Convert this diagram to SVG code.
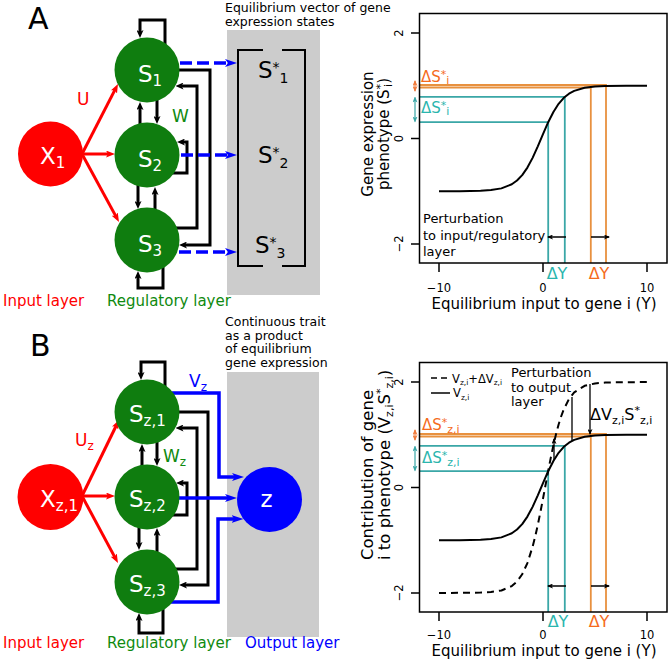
<svg xmlns="http://www.w3.org/2000/svg" width="671" height="663" viewBox="0 0 671 663">
<style>
text{font-family:"DejaVu Sans","Liberation Sans",sans-serif}
.nt{fill:#fff;font-size:23px}
.sb{font-size:15px}
.blk{fill:none;stroke:#000;stroke-width:3;marker-end:url(#hk)}
.red{fill:none;stroke:#f00;stroke-width:3;marker-end:url(#hr)}
.blu{fill:none;stroke:#00f;stroke-width:3.5;marker-end:url(#hb)}
.dsh{stroke-dasharray:12 5}
.gr{fill:#0f7d0f}
.ttl{font-size:12.5px}
.tk{font-size:11.5px}
.ax{font-size:15px}
.cy{stroke:#3aa7a7;stroke-width:1.8;fill:none}
.or{stroke:#e8913f;stroke-width:1.8;fill:none}
.cur{fill:none;stroke:#000;stroke-width:2;stroke-linejoin:round}
.pa{fill:none;stroke:#000;stroke-width:1.3;marker-start:url(#hp);marker-end:url(#hp)}
.box{fill:none;stroke:#000;stroke-width:1.5}
</style>
<defs>
<marker id="hk" viewBox="0 0 8 7" refX="3" refY="3.5" markerWidth="8" markerHeight="7" markerUnits="userSpaceOnUse" orient="auto"><path d="M0,0 L8,3.5 L0,7 L2,3.5z" fill="#000"/></marker>
<marker id="hr" viewBox="0 0 9 7" refX="4" refY="3.5" markerWidth="9" markerHeight="7" markerUnits="userSpaceOnUse" orient="auto"><path d="M0,0 L9,3.5 L0,7 L2,3.5z" fill="#f00"/></marker>
<marker id="hb" viewBox="0 0 12 8" refX="4" refY="4" markerWidth="12" markerHeight="8" markerUnits="userSpaceOnUse" orient="auto"><path d="M0,0 L12,4 L0,8 L3,4z" fill="#00f"/></marker>
<marker id="hp" viewBox="0 0 6 5" refX="5" refY="2.5" markerWidth="6" markerHeight="5" markerUnits="userSpaceOnUse" orient="auto-start-reverse"><path d="M0,0 L6,2.5 L0,5 L1.5,2.5z" fill="#000"/></marker>
<marker id="hc" viewBox="0 0 6 5" refX="5" refY="2.5" markerWidth="6" markerHeight="5" markerUnits="userSpaceOnUse" orient="auto-start-reverse"><path d="M0,0 L6,2.5 L0,5 L1.5,2.5z" fill="#3aa7a7"/></marker>
<marker id="ho" viewBox="0 0 6 5" refX="5" refY="2.5" markerWidth="6" markerHeight="5" markerUnits="userSpaceOnUse" orient="auto-start-reverse"><path d="M0,0 L6,2.5 L0,5 L1.5,2.5z" fill="#f07a3a"/></marker>
</defs>
<rect width="671" height="663" fill="#fff"/>

<!-- ============ PANEL A ============ -->
<text x="28" y="29" font-size="30">A</text>
<rect id="boxA" x="227" y="30" width="93" height="265" fill="#cccccc"/>
<text class="ttl" x="225" y="12" font-size="13">Equilibrium vector of gene</text>
<text class="ttl" x="225" y="25.5" font-size="13">expression states</text>

<g id="connectors-A">
<path class="blk" d="M165,45 V20 H140 V33"/>
<path class="blk" d="M163,266 V288 H138 V276"/>
<path class="blk" d="M172,173 H187 V142 H182"/>
<path class="blk" d="M140,125 V107"/>
<path class="blk" d="M157,100 V119"/>
<path class="blk" d="M138,185 V204"/>
<path class="blk" d="M155,210 V192"/>
<path class="blk" d="M172,70 H210 V245 H184"/>
<path class="blk" d="M172,228 H197 V86 H180.5"/>
<path class="red" d="M82,154 L115.7,88.4"/>
<path class="red" d="M82,154 H110"/>
<path class="red" d="M82,154 L116.6,217.6"/>
<path class="blu dsh" d="M180,63 H229"/>
<path class="blu dsh" d="M181,155 H229"/>
<path class="blu dsh" d="M179,252 H229"/>
</g>

<g id="node-x1"><circle cx="50.5" cy="154" r="32.5" fill="#f00"/><text class="nt" x="40" y="164" font-size="21">X<tspan class="sb" dy="4">1</tspan></text></g>
<g id="node-S1"><circle class="gr" cx="147" cy="70" r="32.5"/><text class="nt" x="138" y="82">S<tspan class="sb" dy="4">1</tspan></text></g>
<g id="node-S2"><circle class="gr" cx="147" cy="155" r="32.5"/><text class="nt" x="138" y="167">S<tspan class="sb" dy="4">2</tspan></text></g>
<g id="node-S3"><circle class="gr" cx="147" cy="240" r="32.5"/><text class="nt" x="138" y="252">S<tspan class="sb" dy="4">3</tspan></text></g>

<g id="vectorA">
<path d="M263,50 H238 V266 H263 M282,50 H305 V266 H282" fill="none" stroke="#000" stroke-width="2"/>
<text x="258" y="78" font-size="23">S<tspan font-size="14" dy="-6.5">*</tspan><tspan font-size="14" dy="11.5">1</tspan></text>
<text x="258" y="163" font-size="23">S<tspan font-size="14" dy="-6.5">*</tspan><tspan font-size="14" dy="11.5">2</tspan></text>
<text x="255" y="253" font-size="23">S<tspan font-size="14" dy="-6.5">*</tspan><tspan font-size="14" dy="11.5">3</tspan></text>
</g>

<text x="77" y="105" font-size="17" fill="#f00">U</text>
<text x="172" y="122" font-size="17" fill="#0f8a0f">W</text>
<text x="3" y="306" font-size="15" fill="#f00">Input layer</text>
<text x="107" y="306" font-size="15" fill="#0f8a0f">Regulatory layer</text>

<!-- plot A -->
<g id="plotA">
<path class="cy" d="M419.5,122.2 H548.2 V263 M419.5,96.9 H564.8 V263"/>
<path class="or" d="M419.5,87.5 H590.8 V263 M419.5,85 H606 V263"/>
<polyline class="cur" points="439,191.19 459.8,191.13 480.6,190.76 491,190.08 501.4,188.37 511.8,184.24 517,180.5 522.2,175.07 527.4,167.56 532.6,157.86 537.8,146.37 543,134.05 548.2,122.21 553.4,111.94 558.6,103.82 563.8,97.84 569,93.66 574.2,90.85 584.6,87.83 595,86.6 605.4,86.12 626.2,85.85 647,85.81"/>
<rect class="box" x="419.5" y="13.5" width="247.5" height="249.5"/>
<path d="M411,33.1 H419.5 M411,138.5 H419.5 M411,243.9 H419.5 M439,263 V272 M543,263 V272 M647,263 V272" stroke="#000" stroke-width="1.5"/>
<text class="tk" transform="translate(403,33.1) rotate(-90)" text-anchor="middle">2</text>
<text class="tk" transform="translate(403,138.5) rotate(-90)" text-anchor="middle">0</text>
<text class="tk" transform="translate(403,243.9) rotate(-90)" text-anchor="middle">−2</text>
<text class="tk" x="439" y="292" text-anchor="middle">−10</text>
<text class="tk" x="543" y="292" text-anchor="middle">0</text>
<text class="tk" x="647" y="292" text-anchor="middle">10</text>
<text class="ax" x="544" y="309" text-anchor="middle">Equilibrium input to gene i (Y)</text>
<text class="ax" transform="translate(373,134) rotate(-90)" text-anchor="middle">Gene expression</text>
<text class="ax" transform="translate(389,134) rotate(-90)" text-anchor="middle">phenotype (S<tspan font-size="11" dy="-5">*</tspan><tspan font-size="11" dy="8" dx="-3">i</tspan><tspan dy="-3">)</tspan></text>
<path class="pa" d="M548,237 H566 M591,237 H609"/>
<path d="M415,97.5 V121.5" fill="none" stroke="#3aa7a7" stroke-width="1.2" marker-start="url(#hc)" marker-end="url(#hc)"/>
<path d="M415,81 V91" fill="none" stroke="#f07a3a" stroke-width="1.2" marker-start="url(#ho)" marker-end="url(#ho)"/>
<text x="421" y="82" font-size="15" fill="#f56b1c">ΔS<tspan font-size="11" dy="-4">*</tspan><tspan font-size="11" dy="6">i</tspan></text>
<text x="421" y="113" font-size="15" fill="#2bb5ad">ΔS<tspan font-size="11" dy="-4">*</tspan><tspan font-size="11" dy="6">i</tspan></text>
<text x="423" y="223" font-size="13">Perturbation</text>
<text x="423" y="240" font-size="13">to input/regulatory</text>
<text x="423" y="256" font-size="13">layer</text>
<text x="557" y="279" font-size="16" fill="#2bb5ad" text-anchor="middle">ΔY</text>
<text x="599" y="279" font-size="16" fill="#f56b1c" text-anchor="middle">ΔY</text>
</g>

<!-- ============ PANEL B ============ -->
<text x="30" y="356" font-size="30">B</text>
<rect id="boxB" x="227" y="372" width="92" height="265" fill="#cccccc"/>
<text class="ttl" x="225" y="326" font-size="11.5">Continuous trait</text>
<text class="ttl" x="225" y="339.5" font-size="11.5">as a product</text>
<text class="ttl" x="225" y="353" font-size="11.5">of equilibrium</text>
<text class="ttl" x="225" y="366.5" font-size="11.5">gene expression</text>

<g id="connectors-B">
<path class="blk" d="M165,387 V362 H141 V375"/>
<path class="blk" d="M163,608 V633 H139 V618"/>
<path class="blk" d="M172,515 H187 V483 H181"/>
<path class="blk" d="M142,467 V449"/>
<path class="blk" d="M157,441 V461"/>
<path class="blk" d="M139,526 V545"/>
<path class="blk" d="M157,553 V533"/>
<path class="blk" d="M172,412 H208 V585 H184"/>
<path class="blk" d="M172,569 H197 V428 H180.5"/>
<path class="red" d="M82,496 L116.8,424.5"/>
<path class="red" d="M82,496 H110"/>
<path class="red" d="M82,496 L115.6,558.6"/>
<path class="blu" d="M172,393 H219 V477 H236"/>
<path class="blu" d="M179,498 H229"/>
<path class="blu" d="M171,602 H218 V519 H235.5"/>
</g>

<g id="node-xz1"><circle cx="50.5" cy="497" r="33" fill="#f00"/><text class="nt" x="40" y="507" font-size="20">X<tspan class="sb" dy="4">z,1</tspan></text></g>
<g id="node-Sz1"><circle class="gr" cx="147" cy="412" r="32.5"/><text class="nt" x="129" y="422">S<tspan class="sb" dy="4">z,1</tspan></text></g>
<g id="node-Sz2"><circle class="gr" cx="147" cy="497" r="32.5"/><text class="nt" x="129" y="507">S<tspan class="sb" dy="4">z,2</tspan></text></g>
<g id="node-Sz3"><circle class="gr" cx="147" cy="582" r="32.5"/><text class="nt" x="129" y="592">S<tspan class="sb" dy="4">z,3</tspan></text></g>
<g id="node-z"><circle cx="269.5" cy="499.5" r="32.5" fill="#00f"/><text class="nt" x="266.5" y="507" font-size="24" text-anchor="middle">z</text></g>

<text x="75" y="446" font-size="17" fill="#f00">U<tspan font-size="12" dy="4">z</tspan></text>
<text x="163" y="462" font-size="17" fill="#0f8a0f">W<tspan font-size="12" dy="4">z</tspan></text>
<text x="189" y="387" font-size="17" fill="#00f">V<tspan font-size="12" dy="4">z</tspan></text>
<text x="3" y="648" font-size="15" fill="#f00">Input layer</text>
<text x="107" y="648" font-size="15" fill="#0f8a0f">Regulatory layer</text>
<text x="245" y="648" font-size="15" fill="#00f">Output layer</text>

<!-- plot B -->
<g id="plotB">
<path class="cy" d="M419.5,471.2 H548.2 V612 M419.5,445.9 H564.8 V612"/>
<path class="or" d="M419.5,436.5 H590.8 V612 M419.5,434 H606 V612"/>
<polyline class="cur" points="439,540.19 459.8,540.13 480.6,539.76 491,539.08 501.4,537.37 511.8,533.24 517,529.5 522.2,524.07 527.4,516.56 532.6,506.86 537.8,495.37 543,483.05 548.2,471.21 553.4,460.94 558.6,452.82 563.8,446.84 569,442.66 574.2,439.85 584.6,436.83 595,435.6 605.4,435.12 626.2,434.85 647,434.81"/>
<polyline class="cur" stroke-dasharray="7 5" points="439,592.9 459.8,592.87 480.6,592.6 491,592.06 501.4,590.48 511.8,586.05 517,581.46 522.2,574.24 527.4,563.07 532.6,546.73 535.2,536.51 537.8,524.92 540.4,512.16 543,498.62 545.6,484.71 548.2,470.9 550.8,457.62 553.4,445.29 556,434.22 558.6,424.52 561.2,416.24 563.8,409.35 569,399.02 574.2,392.38 584.6,385.79 595,383.42 605.4,382.57 626.2,382.15 647,382.1"/>
<rect class="box" x="419.5" y="362.5" width="247.5" height="249.5"/>
<path d="M411,382.1 H419.5 M411,487.5 H419.5 M411,592.9 H419.5 M439,612 V621 M543,612 V621 M647,612 V621" stroke="#000" stroke-width="1.5"/>
<text class="tk" transform="translate(403,382.1) rotate(-90)" text-anchor="middle">2</text>
<text class="tk" transform="translate(403,487.5) rotate(-90)" text-anchor="middle">0</text>
<text class="tk" transform="translate(403,592.9) rotate(-90)" text-anchor="middle">−2</text>
<text class="tk" x="439" y="638.5" text-anchor="middle">−10</text>
<text class="tk" x="543" y="638.5" text-anchor="middle">0</text>
<text class="tk" x="647" y="638.5" text-anchor="middle">10</text>
<text class="ax" x="544" y="656" text-anchor="middle">Equilibrium input to gene i (Y)</text>
<text transform="translate(373,560) rotate(-90)" font-size="16.5">Contribution of gene</text>
<text transform="translate(390,560) rotate(-90)" font-size="16.5">i to phenotype (V<tspan font-size="11" dy="3">z,i</tspan><tspan dy="-3">S</tspan><tspan font-size="11" dy="-6">*</tspan><tspan font-size="11" dy="9">z,i</tspan><tspan dy="-3">)</tspan></text>
<path class="pa" d="M548,586 H566 M591,586 H609"/>
<path class="pa" d="M554,439 V460 M572,397 V441 M590,384 V434"/>
<path d="M415,446.5 V470.5" fill="none" stroke="#3aa7a7" stroke-width="1.2" marker-start="url(#hc)" marker-end="url(#hc)"/>
<path d="M415,430 V440" fill="none" stroke="#f07a3a" stroke-width="1.2" marker-start="url(#ho)" marker-end="url(#ho)"/>
<text x="422" y="430" font-size="15" fill="#f56b1c">ΔS<tspan font-size="11" dy="-4">*</tspan><tspan font-size="11" dy="7">z,i</tspan></text>
<text x="422" y="463" font-size="15" fill="#2bb5ad">ΔS<tspan font-size="11" dy="-4">*</tspan><tspan font-size="11" dy="7">z,i</tspan></text>
<path d="M431,378 H450" stroke="#000" stroke-width="1.5" stroke-dasharray="6 4"/>
<path d="M431,393 H450" stroke="#000" stroke-width="1.5"/>
<text x="452" y="383" font-size="11.5">V<tspan font-size="7.5" dy="2">z,i</tspan><tspan dy="-2">+ΔV</tspan><tspan font-size="7.5" dy="2">z,i</tspan></text>
<text x="453" y="397" font-size="11.5">V<tspan font-size="7.5" dy="3">z,i</tspan></text>
<text x="511" y="377" font-size="13">Perturbation</text>
<text x="511" y="392" font-size="13">to output</text>
<text x="511" y="406" font-size="13">layer</text>
<text x="590" y="420" font-size="16">ΔV<tspan font-size="11" dy="4">z,i</tspan><tspan dy="-4">S</tspan><tspan font-size="11" dy="-6">*</tspan><tspan font-size="11" dy="10">z,i</tspan></text>
<text x="558" y="627" font-size="16" fill="#2bb5ad" text-anchor="middle">ΔY</text>
<text x="599" y="627" font-size="16" fill="#f56b1c" text-anchor="middle">ΔY</text>
</g>
</svg>
